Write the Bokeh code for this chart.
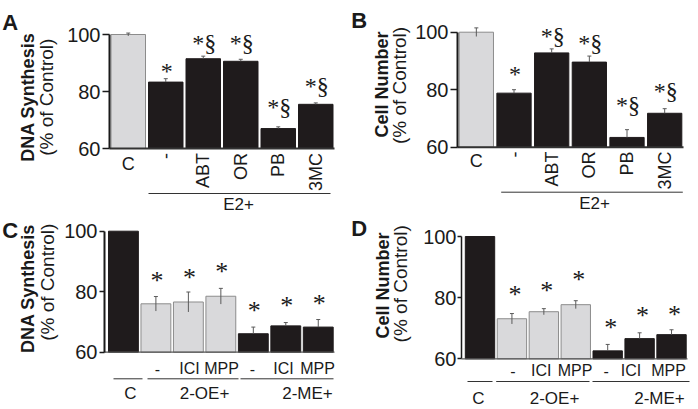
import math
from bokeh.plotting import figure
from bokeh.models import ColumnDataSource, FixedTicker, Whisker, TeeHead, Range1d
from bokeh.layouts import column, row
from bokeh.embed import file_html
from bokeh.resources import INLINE
from bokeh.core.properties import value

SANS = "Liberation Sans"
SERIF = "Liberation Serif"
LIGHT = "#d9d9db"
LIGHT_EDGE = "#8c8c8c"
DARK = "#1f1b1c"
INK = "#1a1a1a"

# ---------------- data ----------------
y_ticks = [60, 80, 100]
baseline_value = 60

ab_labels = ["C", "-", "ABT", "OR", "PB", "3MC"]
ab_group_label = "E2+"
ab_marks = ["", "*", "*§", "*§", "*§", "*§"]
ab_shades = ["light", "dark", "dark", "dark", "dark", "dark"]

a_values = [100.0, 83.3, 91.5, 90.6, 67.0, 75.5]
a_errors = [0.5, 1.2, 0.9, 0.7, 0.6, 0.5]

b_values = [100.0, 78.8, 92.8, 89.6, 63.4, 71.8]
b_errors = [1.5, 1.2, 1.4, 2.1, 2.7, 1.6]

cd_labels = ["-", "ICI", "MPP", "-", "ICI", "MPP"]
cd_groups = ["C", "2-OE+", "2-ME+"]
cd_marks = ["", "*", "*", "*", "*", "*", "*"]
cd_shades = ["dark", "light", "light", "light", "dark", "dark", "dark"]

c_values = [100.0, 76.0, 76.6, 78.5, 66.1, 68.7, 68.3]
c_errors = [0.0, 2.4, 3.3, 2.6, 2.2, 1.1, 2.5]

d_values = [100.0, 73.1, 75.4, 77.7, 62.6, 66.6, 67.9]
d_errors = [0.0, 1.7, 1.0, 1.3, 2.1, 1.9, 1.6]


def make_panel(c):
    ox, oy, w, h = c["box"]           # page box of this panel
    xo, xs = c["xmap"]                # page px of data x=0, px per unit
    y60, ys = c["ymap"]               # page px of y=60, px per unit

    def X(px):
        return (px - xo) / xs

    def Y(py):
        return baseline_value + (y60 - py) / ys

    p = figure(width=w, height=h,
               x_range=Range1d(X(ox), X(ox + w)), y_range=Range1d(Y(oy + h), Y(oy)),
               output_backend="svg", toolbar_location=None, x_axis_location=None,
               min_border_left=0, min_border_right=0, min_border_top=0, min_border_bottom=0)
    p.outline_line_color = None
    p.xgrid.visible = False
    p.ygrid.visible = False
    p.background_fill_color = "white"
    p.border_fill_color = "white"

    ax = p.yaxis[0]
    ax.fixed_location = c["axis_x"]
    ax.ticker = FixedTicker(ticks=y_ticks)
    ax.bounds = (y_ticks[0], y_ticks[-1])
    ax.major_label_text_font = SANS
    ax.major_label_text_font_size = "20px"
    ax.major_label_text_color = INK
    ax.axis_line_width = c["axis_w"]
    ax.axis_line_color = INK
    ax.major_tick_line_width = 1.5
    ax.major_tick_line_color = INK
    ax.major_tick_out = c["tick_out"]
    ax.major_tick_in = 0
    ax.minor_tick_line_color = None
    ax.major_label_standoff = c["standoff"]

    values, errors, shades = c["values"], c["errors"], c["shades"]
    n = len(values)
    xs_ = [i + 0.5 for i in range(n)]
    fills = [LIGHT if s == "light" else DARK for s in shades]
    edges = [LIGHT_EDGE if s == "light" else DARK for s in shades]

    p.vbar(x=xs_, top=values, bottom=baseline_value, width=c["bar_w"],
           fill_color=fills, line_color=edges, line_width=1)

    # x baseline
    p.segment(x0=[c["axis_x"]], y0=[baseline_value], x1=[n], y1=[baseline_value],
              line_color=c["base_color"], line_width=c["base_w"])

    # error bars
    ex, eu, el = [], [], []
    for x, v, e, s in zip(xs_, values, errors, shades):
        if e > 0:
            ex.append(x)
            eu.append(v + e)
            el.append(v - e if s == "light" else v)
    esrc = ColumnDataSource(dict(x=ex, upper=eu, lower=el))
    wh = Whisker(source=esrc, base="x", upper="upper", lower="lower",
                 line_color="#5a5a5a", line_width=1,
                 upper_head=TeeHead(size=4, line_color="#5a5a5a", line_width=1),
                 lower_head=None, level="overlay")
    p.add_layout(wh)

    # significance marks (centre of the asterisk sits gap px above the error bar)
    fs = c["mark_fs"]
    mx, my, mt = [], [], []
    for x, v, e, m, g in zip(xs_, values, errors, c["marks"], c["gaps"]):
        if m:
            mx.append(x + c["mark_dx"] / xs)
            my.append(v + e + (g - c["mark_k"] * fs) / ys)
            mt.append(m)
    p.text(x=mx, y=my, text=mt, text_font=value(SERIF), text_font_size=f"{fs}px",
           text_align="center", text_baseline="middle", text_color=INK)

    # category labels
    for (px, py, txt, rot, size) in c["cat_labels"]:
        if rot:
            p.text(x=[X(px)], y=[Y(py)], text=[txt], angle=math.pi / 2,
                   text_font=value(SANS), text_font_size=size, text_align="right",
                   text_baseline="middle", text_color=INK)
        else:
            p.text(x=[X(px)], y=[Y(py)], text=[txt],
                   text_font=value(SANS), text_font_size=size, text_align="center",
                   text_baseline="middle", text_color=INK)

    # group lines and labels
    gy = Y(c["gline_y"])
    p.segment(x0=[X(a) for a, b in c["glines"]], y0=[gy] * len(c["glines"]),
              x1=[X(b) for a, b in c["glines"]], y1=[gy] * len(c["glines"]),
              line_color="#333333", line_width=1)
    p.text(x=[X(gx) for gx, t in c["glabels"]], y=[Y(c["glabel_y"])] * len(c["glabels"]),
           text=[t for gx, t in c["glabels"]], text_font=value(SANS),
           text_font_size=c["glabel_size"], text_align="center", text_baseline="middle",
           text_color=INK)

    # panel letter and axis titles
    lx, ly = c["letter_pos"]
    p.text(x=[X(lx)], y=[Y(ly)], text=[c["letter"]], text_font=value(SANS),
           text_font_style="bold", text_font_size="22px", text_align="left",
           text_baseline="alphabetic", text_color=INK)
    (bx, by), (nx, ny) = c["title_pos"]
    p.text(x=[X(bx)], y=[Y(by)], text=[c["title"]], angle=math.pi / 2,
           text_font=value(SANS), text_font_style="bold", text_font_size="18px",
           text_align="center", text_baseline="middle", text_color=INK)
    p.text(x=[X(nx)], y=[Y(ny)], text=["(% of Control)"], angle=math.pi / 2,
           text_font=value(SANS), text_font_size="19px",
           text_align="center", text_baseline="middle", text_color=INK)
    return p


def ab_cat_labels(xo, xs, h_y, r_y):
    out = []
    for i, t in enumerate(ab_labels):
        px = xo + (i + 0.5) * xs
        if i == 0:
            out.append((px, h_y, t, False, "18px"))
        else:
            out.append((px, r_y, t, True, "18px"))
    return out


pA = make_panel(dict(
    box=(0, 0, 349, 213), xmap=(109, 37.5), ymap=(148, 2.85), axis_x=0,
    values=a_values, errors=a_errors, shades=ab_shades, marks=ab_marks,
    gaps=[0, 7, 13, 16, 19.8, 16.2], mark_dx=1, mark_fs=24, mark_k=-0.02, bar_w=0.92,
    axis_w=2, tick_out=7, standoff=2, base_color="#333333", base_w=2,
    cat_labels=ab_cat_labels(109, 37.5, 163, 152.5),
    gline_y=193, glines=[(148, 330)], glabel_y=203.5, glabels=[(238, ab_group_label)],
    glabel_size="17px",
    letter="A", letter_pos=(1.7, 21.7),
    title="DNA Synthesis", title_pos=((27, 96.7), (45.5, 96.7)),
))

pB = make_panel(dict(
    box=(349, 0, 349, 213), xmap=(457, 37.67), ymap=(146.7, 2.875), axis_x=0,
    values=b_values, errors=b_errors, shades=ab_shades, marks=ab_marks,
    gaps=[0, 15, 12.5, 12.4, 24, 17], mark_dx=1, mark_fs=24, mark_k=-0.02, bar_w=0.91,
    axis_w=2, tick_out=7, standoff=2, base_color="#333333", base_w=2,
    cat_labels=ab_cat_labels(457, 37.67, 160, 151),
    gline_y=191.7, glines=[(500.7, 682.3)], glabel_y=203, glabels=[(594, ab_group_label)],
    glabel_size="17px",
    letter="B", letter_pos=(350.7, 20),
    title="Cell Number", title_pos=((381, 84), (398.5, 85)),
))

c_label_x = [157, 189, 221, 252, 283, 317]
pC = make_panel(dict(
    box=(0, 213, 349, 196), xmap=(106.7, 32.47), ymap=(351.7, 3.025), axis_x=-0.083,
    values=c_values, errors=c_errors, shades=cd_shades, marks=cd_marks,
    gaps=[0, 15.3, 14, 16, 15.7, 17, 15.7], mark_dx=1, mark_fs=26, mark_k=-0.02, bar_w=0.92,
    axis_w=2, tick_out=5, standoff=2, base_color="#555555", base_w=1.2,
    cat_labels=[(x, 368, t, False, "16px") for x, t in zip(c_label_x, cd_labels)],
    gline_y=378.3, glines=[(113, 142), (147, 238), (240, 333)],
    glabel_y=393, glabels=list(zip([130, 204, 307], cd_groups)),
    glabel_size="17px",
    letter="C", letter_pos=(1.7, 230),
    title="DNA Synthesis", title_pos=((27, 288), (46.5, 281.7)),
))

d_label_x = [512.3, 540.7, 574.5, 605.7, 630.5, 668]
pD = make_panel(dict(
    box=(349, 213, 349, 196), xmap=(463.55, 31.92), ymap=(358.3, 3.0575), axis_x=-0.08,
    values=d_values, errors=d_errors, shades=cd_shades, marks=cd_marks,
    gaps=[0, 18.8, 17.5, 20.8, 16.5, 16.5, 14.8], mark_dx=3, mark_fs=26, mark_k=-0.02, bar_w=0.92,
    axis_w=1.5, tick_out=4, standoff=1, base_color="#555555", base_w=1.2,
    cat_labels=[(x, 370, t, False, "16px") for x, t in zip(d_label_x, cd_labels)],
    gline_y=381, glines=[(467, 492), (495.7, 589), (592, 689)],
    glabel_y=397.7, glabels=list(zip([478, 554, 659], cd_groups)),
    glabel_size="17px",
    letter="D", letter_pos=(350.7, 228.3),
    title="Cell Number", title_pos=((382.5, 285), (400, 283.3)),
))

layout = column(row(pA, pB), row(pC, pD))
open("out.html", "w").write(file_html(layout, INLINE))
